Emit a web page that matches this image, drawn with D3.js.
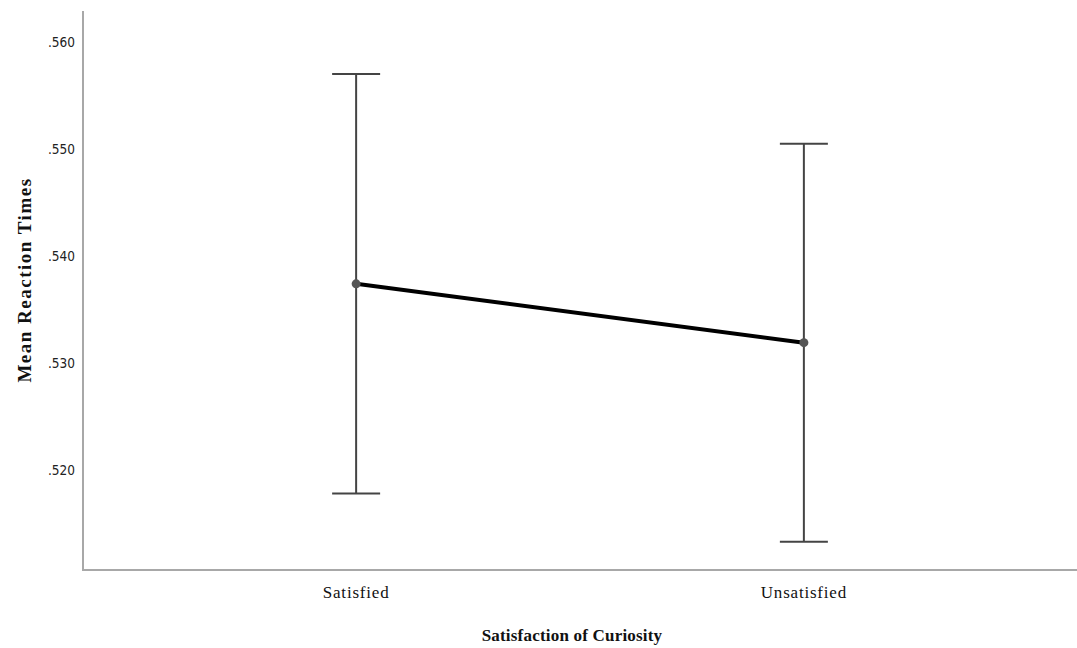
<!DOCTYPE html>
<html>
<head>
<meta charset="utf-8">
<script src="https://cdn.jsdelivr.net/npm/d3@7"></script>
<style>
  html, body { margin: 0; padding: 0; background: #fff; }
  svg { display: block; }
</style>
</head>
<body>
<svg id="chart" width="1077" height="648"></svg>
<script>
const categories = ["Satisfied", "Unsatisfied"];
const means = [0.5374, 0.5319];
const upper = [0.5570, 0.5505];
const lower = [0.5178, 0.5133];
const yTicks = [0.520, 0.530, 0.540, 0.550, 0.560];

(function () {
const data = categories.map((c, i) => ({ c, m: means[i], hi: upper[i], lo: lower[i] }));

const svg = d3.select("#chart");
const pL = 83, pR = 1077, pT = 11, pB = 570;

const y = d3.scaleLinear().domain([0.51065, 0.56290]).range([pB, pT]);
const x = d3.scalePoint().domain(categories).range([pL, pR]).padding(0.61);

// y tick labels
svg.append("g").selectAll("text").data(yTicks).join("text")
  .attr("x", 75).attr("y", d => y(d)).attr("dy", "0.35em")
  .attr("text-anchor", "end")
  .attr("font-family", "DejaVu Sans Condensed, Liberation Sans, Arial, sans-serif")
  .attr("font-size", 13.5).attr("fill", "#222")
  .text(d => d3.format(".3f")(d).replace(/^0/, ""));

// x tick labels
svg.append("g").selectAll("text").data(categories).join("text")
  .attr("x", d => x(d)).attr("y", 598)
  .attr("text-anchor", "middle")
  .attr("font-family", "Liberation Serif, Times New Roman, serif")
  .attr("font-size", 17).attr("letter-spacing", 0.8).attr("fill", "#111")
  .text(d => d);

// axes
svg.append("line").attr("x1", pL).attr("x2", pL).attr("y1", pT).attr("y2", pB + 1)
  .attr("stroke", "#a8a8a8").attr("stroke-width", 2);
svg.append("line").attr("x1", pL - 1).attr("x2", pR).attr("y1", pB).attr("y2", pB)
  .attr("stroke", "#a8a8a8").attr("stroke-width", 2);

// error bars
const eb = svg.append("g").attr("stroke", "#444").attr("stroke-width", 2);
data.forEach(d => {
  eb.append("line").attr("x1", x(d.c)).attr("x2", x(d.c)).attr("y1", y(d.hi)).attr("y2", y(d.lo));
  eb.append("line").attr("x1", x(d.c) - 24).attr("x2", x(d.c) + 24).attr("y1", y(d.hi)).attr("y2", y(d.hi));
  eb.append("line").attr("x1", x(d.c) - 24).attr("x2", x(d.c) + 24).attr("y1", y(d.lo)).attr("y2", y(d.lo));
});

// mean line
svg.append("path").datum(data)
  .attr("fill", "none").attr("stroke", "#000").attr("stroke-width", 4)
  .attr("d", d3.line().x(d => x(d.c)).y(d => y(d.m)));

// points
svg.append("g").selectAll("circle").data(data).join("circle")
  .attr("cx", d => x(d.c)).attr("cy", d => y(d.m)).attr("r", 4.5)
  .attr("fill", "#555");

// axis titles
svg.append("text")
  .attr("transform", "translate(31,280) rotate(-90)")
  .attr("text-anchor", "middle")
  .attr("font-family", "Liberation Serif, Times New Roman, serif")
  .attr("font-weight", "bold").attr("font-size", 19).attr("letter-spacing", 1.5).attr("fill", "#111")
  .text("Mean Reaction Times");

svg.append("text")
  .attr("x", 572).attr("y", 641)
  .attr("text-anchor", "middle")
  .attr("font-family", "Liberation Serif, Times New Roman, serif")
  .attr("font-weight", "bold").attr("font-size", 17).attr("letter-spacing", 0.2).attr("fill", "#111")
  .text("Satisfaction of Curiosity");
})();
</script>
</body>
</html>
